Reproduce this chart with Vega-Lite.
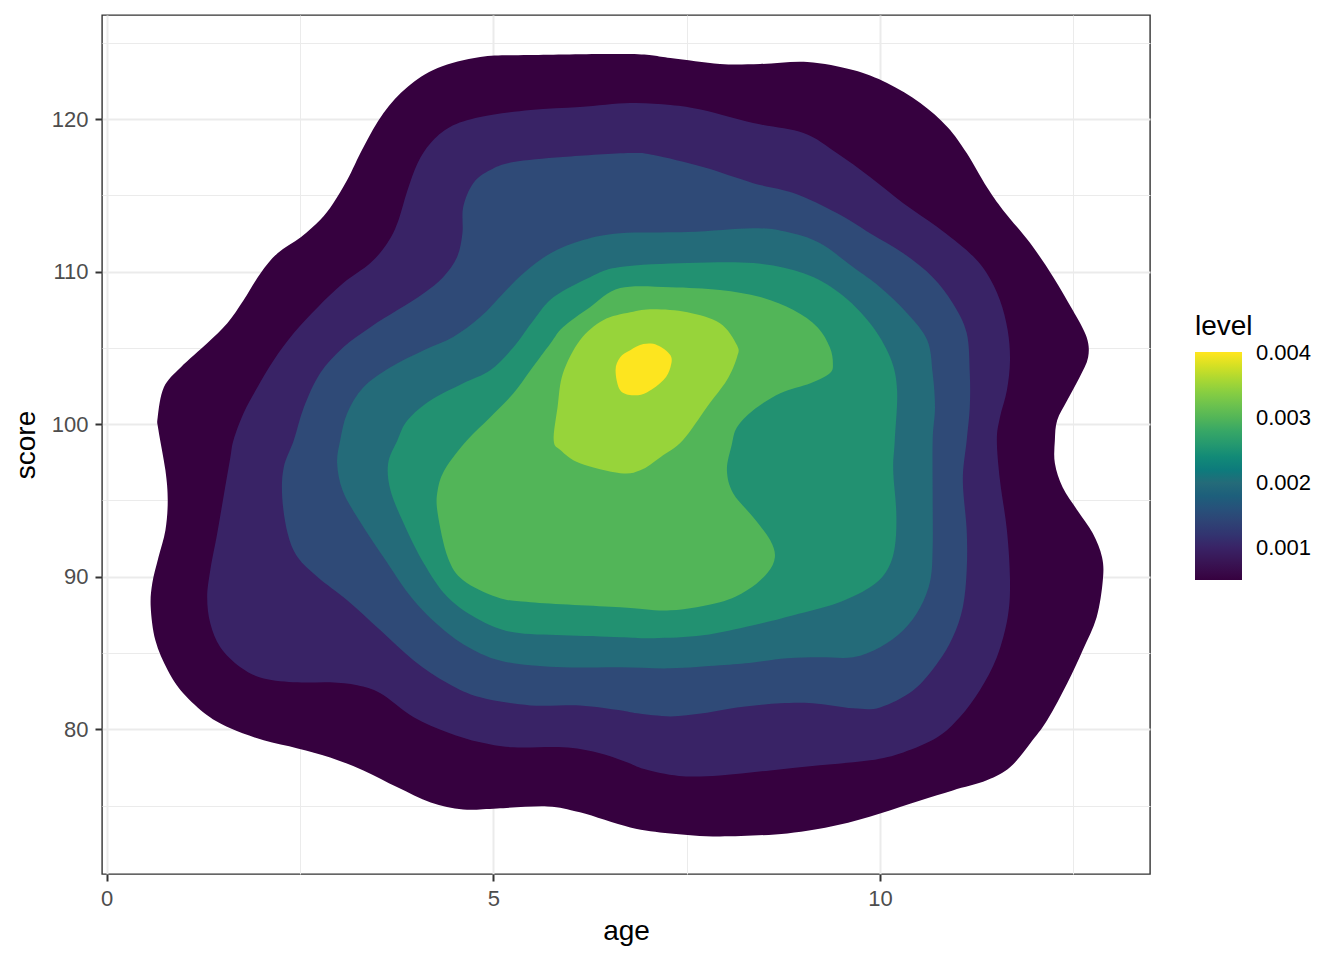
{
  "$schema": "https://vega.github.io/schema/vega-lite/v6.json",
  "description": "Filled 2D density contours of score against age",
  "width": 1048,
  "height": 859,
  "autosize": {"type": "none"},
  "padding": {"left": 102, "top": 15, "right": 194, "bottom": 86},
  "background": "white",
  "data": {
    "values": [
      {"level":0.0005,"i":1,"age":0.67,"score":99.61},{"level":0.0005,"i":2,"age":0.66,"score":100.46},{"level":0.0005,"i":3,"age":0.74,"score":102.43},{"level":0.0005,"i":4,"age":0.96,"score":103.74},{"level":0.0005,"i":5,"age":1.30,"score":105.31},{"level":0.0005,"i":6,"age":1.56,"score":106.62},{"level":0.0005,"i":7,"age":1.77,"score":108.13},{"level":0.0005,"i":8,"age":1.99,"score":109.90},{"level":0.0005,"i":9,"age":2.21,"score":111.21},{"level":0.0005,"i":10,"age":2.51,"score":112.26},
      {"level":0.0005,"i":11,"age":2.76,"score":113.38},{"level":0.0005,"i":12,"age":2.93,"score":114.49},{"level":0.0005,"i":13,"age":3.11,"score":116.00},{"level":0.0005,"i":14,"age":3.32,"score":118.16},{"level":0.0005,"i":15,"age":3.58,"score":120.39},{"level":0.0005,"i":16,"age":3.89,"score":122.10},{"level":0.0005,"i":17,"age":4.28,"score":123.34},{"level":0.0005,"i":18,"age":4.83,"score":124.07},{"level":0.0005,"i":19,"age":5.48,"score":124.20},{"level":0.0005,"i":20,"age":6.77,"score":124.26},
      {"level":0.0005,"i":21,"age":7.29,"score":124.00},{"level":0.0005,"i":22,"age":7.93,"score":123.61},{"level":0.0005,"i":23,"age":8.45,"score":123.61},{"level":0.0005,"i":24,"age":9.06,"score":123.74},{"level":0.0005,"i":25,"age":9.65,"score":123.21},{"level":0.0005,"i":26,"age":10.09,"score":122.36},{"level":0.0005,"i":27,"age":10.52,"score":121.05},{"level":0.0005,"i":28,"age":10.87,"score":119.48},{"level":0.0005,"i":29,"age":11.12,"score":117.77},{"level":0.0005,"i":30,"age":11.38,"score":115.54},
      {"level":0.0005,"i":31,"age":11.59,"score":114.03},{"level":0.0005,"i":32,"age":11.94,"score":111.87},{"level":0.0005,"i":33,"age":12.24,"score":109.64},{"level":0.0005,"i":34,"age":12.49,"score":107.48},{"level":0.0005,"i":35,"age":12.67,"score":105.71},{"level":0.0005,"i":36,"age":12.69,"score":104.39},{"level":0.0005,"i":37,"age":12.58,"score":103.08},{"level":0.0005,"i":38,"age":12.42,"score":101.57},{"level":0.0005,"i":39,"age":12.29,"score":100.26},{"level":0.0005,"i":40,"age":12.26,"score":98.95},
      {"level":0.0005,"i":41,"age":12.26,"score":97.44},{"level":0.0005,"i":42,"age":12.36,"score":95.87},{"level":0.0005,"i":43,"age":12.55,"score":94.36},{"level":0.0005,"i":44,"age":12.75,"score":92.85},{"level":0.0005,"i":45,"age":12.87,"score":91.28},{"level":0.0005,"i":46,"age":12.88,"score":89.77},{"level":0.0005,"i":47,"age":12.80,"score":87.34},{"level":0.0005,"i":48,"age":12.62,"score":85.18},{"level":0.0005,"i":49,"age":12.42,"score":83.02},{"level":0.0005,"i":50,"age":12.16,"score":80.59},
      {"level":0.0005,"i":51,"age":11.94,"score":79.08},{"level":0.0005,"i":52,"age":11.68,"score":77.51},{"level":0.0005,"i":53,"age":11.38,"score":76.66},{"level":0.0005,"i":54,"age":10.94,"score":76.00},{"level":0.0005,"i":55,"age":10.52,"score":75.34},{"level":0.0005,"i":56,"age":10.00,"score":74.49},{"level":0.0005,"i":57,"age":9.44,"score":73.71},{"level":0.0005,"i":58,"age":8.80,"score":73.18},{"level":0.0005,"i":59,"age":7.93,"score":72.98},{"level":0.0005,"i":60,"age":7.29,"score":73.18},
      {"level":0.0005,"i":61,"age":6.77,"score":73.57},{"level":0.0005,"i":62,"age":6.12,"score":74.56},{"level":0.0005,"i":63,"age":5.70,"score":74.95},{"level":0.0005,"i":64,"age":5.05,"score":74.82},{"level":0.0005,"i":65,"age":4.61,"score":74.75},{"level":0.0005,"i":66,"age":4.19,"score":75.21},{"level":0.0005,"i":67,"age":3.76,"score":76.20},{"level":0.0005,"i":68,"age":3.32,"score":77.31},{"level":0.0005,"i":69,"age":2.89,"score":78.16},{"level":0.0005,"i":70,"age":2.47,"score":78.75},
      {"level":0.0005,"i":71,"age":2.03,"score":79.28},{"level":0.0005,"i":72,"age":1.60,"score":80.07},{"level":0.0005,"i":73,"age":1.30,"score":80.92},{"level":0.0005,"i":74,"age":0.99,"score":82.36},{"level":0.0005,"i":75,"age":0.79,"score":83.87},{"level":0.0005,"i":76,"age":0.63,"score":85.84},{"level":0.0005,"i":77,"age":0.57,"score":88.00},{"level":0.0005,"i":78,"age":0.59,"score":89.57},{"level":0.0005,"i":79,"age":0.67,"score":91.28},{"level":0.0005,"i":80,"age":0.76,"score":93.05},
      {"level":0.0005,"i":81,"age":0.79,"score":95.02},{"level":0.0005,"i":82,"age":0.76,"score":96.98},

      {"level":0.001,"i":1,"age":1.64,"score":98.95},{"level":0.001,"i":2,"age":1.77,"score":100.72},{"level":0.001,"i":3,"age":1.95,"score":102.43},{"level":0.001,"i":4,"age":2.16,"score":104.20},{"level":0.001,"i":5,"age":2.42,"score":105.97},{"level":0.001,"i":6,"age":2.73,"score":107.67},{"level":0.001,"i":7,"age":3.06,"score":109.25},{"level":0.001,"i":8,"age":3.41,"score":110.56},{"level":0.001,"i":9,"age":3.63,"score":111.87},{"level":0.001,"i":10,"age":3.76,"score":113.18},
      {"level":0.001,"i":11,"age":3.89,"score":115.34},{"level":0.001,"i":12,"age":4.02,"score":117.11},{"level":0.001,"i":13,"age":4.19,"score":118.43},{"level":0.001,"i":14,"age":4.44,"score":119.48},{"level":0.001,"i":15,"age":4.83,"score":120.13},{"level":0.001,"i":16,"age":5.48,"score":120.59},{"level":0.001,"i":17,"age":6.12,"score":120.79},{"level":0.001,"i":18,"age":6.77,"score":121.05},{"level":0.001,"i":19,"age":7.29,"score":120.92},{"level":0.001,"i":20,"age":7.71,"score":120.59},
      {"level":0.001,"i":21,"age":8.36,"score":119.74},{"level":0.001,"i":22,"age":9.01,"score":119.08},{"level":0.001,"i":23,"age":9.44,"score":117.77},{"level":0.001,"i":24,"age":9.87,"score":116.20},{"level":0.001,"i":25,"age":10.30,"score":114.49},{"level":0.001,"i":26,"age":10.74,"score":112.92},{"level":0.001,"i":27,"age":11.16,"score":111.21},{"level":0.001,"i":28,"age":11.38,"score":109.90},{"level":0.001,"i":29,"age":11.55,"score":108.13},{"level":0.001,"i":30,"age":11.65,"score":106.16},
      {"level":0.001,"i":31,"age":11.68,"score":104.20},{"level":0.001,"i":32,"age":11.64,"score":102.23},{"level":0.001,"i":33,"age":11.55,"score":100.46},{"level":0.001,"i":34,"age":11.51,"score":98.95},{"level":0.001,"i":35,"age":11.55,"score":96.33},{"level":0.001,"i":36,"age":11.64,"score":93.05},{"level":0.001,"i":37,"age":11.68,"score":89.77},{"level":0.001,"i":38,"age":11.65,"score":87.34},{"level":0.001,"i":39,"age":11.51,"score":84.72},{"level":0.001,"i":40,"age":11.29,"score":82.56},
      {"level":0.001,"i":41,"age":11.03,"score":80.79},{"level":0.001,"i":42,"age":10.74,"score":79.48},{"level":0.001,"i":43,"age":10.30,"score":78.49},{"level":0.001,"i":44,"age":9.87,"score":77.97},{"level":0.001,"i":45,"age":9.22,"score":77.64},{"level":0.001,"i":46,"age":8.58,"score":77.31},{"level":0.001,"i":47,"age":7.93,"score":76.98},{"level":0.001,"i":48,"age":7.40,"score":76.95},{"level":0.001,"i":49,"age":6.95,"score":77.40},{"level":0.001,"i":50,"age":6.70,"score":77.90},
      {"level":0.001,"i":51,"age":6.34,"score":78.49},{"level":0.001,"i":52,"age":5.90,"score":78.82},{"level":0.001,"i":53,"age":5.26,"score":78.82},{"level":0.001,"i":54,"age":4.83,"score":79.15},{"level":0.001,"i":55,"age":4.41,"score":79.80},{"level":0.001,"i":56,"age":3.97,"score":80.79},{"level":0.001,"i":57,"age":3.54,"score":82.36},{"level":0.001,"i":58,"age":3.24,"score":82.89},{"level":0.001,"i":59,"age":2.89,"score":83.08},{"level":0.001,"i":60,"age":2.47,"score":83.08},
      {"level":0.001,"i":61,"age":2.03,"score":83.34},{"level":0.001,"i":62,"age":1.73,"score":84.07},{"level":0.001,"i":63,"age":1.47,"score":85.38},{"level":0.001,"i":64,"age":1.34,"score":86.95},{"level":0.001,"i":65,"age":1.30,"score":88.66},{"level":0.001,"i":66,"age":1.34,"score":90.43},{"level":0.001,"i":67,"age":1.43,"score":92.85},{"level":0.001,"i":68,"age":1.51,"score":95.21},{"level":0.001,"i":69,"age":1.60,"score":97.84},

      {"level":0.0015,"i":1,"age":2.42,"score":98.95},{"level":0.0015,"i":2,"age":2.55,"score":101.11},{"level":0.0015,"i":3,"age":2.76,"score":103.34},{"level":0.0015,"i":4,"age":3.06,"score":105.05},{"level":0.0015,"i":5,"age":3.41,"score":106.36},{"level":0.0015,"i":6,"age":3.76,"score":107.48},{"level":0.0015,"i":7,"age":4.10,"score":108.59},{"level":0.0015,"i":8,"age":4.35,"score":109.64},{"level":0.0015,"i":9,"age":4.53,"score":110.95},{"level":0.0015,"i":10,"age":4.60,"score":112.52},
      {"level":0.0015,"i":11,"age":4.61,"score":114.23},{"level":0.0015,"i":12,"age":4.74,"score":115.80},{"level":0.0015,"i":13,"age":4.96,"score":116.66},{"level":0.0015,"i":14,"age":5.26,"score":117.18},{"level":0.0015,"i":15,"age":5.90,"score":117.51},{"level":0.0015,"i":16,"age":6.77,"score":117.77},{"level":0.0015,"i":17,"age":7.07,"score":117.64},{"level":0.0015,"i":18,"age":7.71,"score":116.85},{"level":0.0015,"i":19,"age":8.36,"score":115.80},{"level":0.0015,"i":20,"age":8.88,"score":115.15},
      {"level":0.0015,"i":21,"age":9.44,"score":113.84},{"level":0.0015,"i":22,"age":9.87,"score":112.52},{"level":0.0015,"i":23,"age":10.30,"score":111.21},{"level":0.0015,"i":24,"age":10.68,"score":109.64},{"level":0.0015,"i":25,"age":10.94,"score":107.93},{"level":0.0015,"i":26,"age":11.12,"score":105.97},{"level":0.0015,"i":27,"age":11.16,"score":103.34},{"level":0.0015,"i":28,"age":11.16,"score":101.11},{"level":0.0015,"i":29,"age":11.12,"score":98.95},{"level":0.0015,"i":30,"age":11.07,"score":96.33},
      {"level":0.0015,"i":31,"age":11.12,"score":93.05},{"level":0.0015,"i":32,"age":11.12,"score":90.43},{"level":0.0015,"i":33,"age":11.07,"score":88.00},{"level":0.0015,"i":34,"age":10.94,"score":86.03},{"level":0.0015,"i":35,"age":10.74,"score":84.33},{"level":0.0015,"i":36,"age":10.43,"score":82.56},{"level":0.0015,"i":37,"age":10.00,"score":81.44},{"level":0.0015,"i":38,"age":9.65,"score":81.38},{"level":0.0015,"i":39,"age":9.13,"score":81.71},{"level":0.0015,"i":40,"age":8.71,"score":81.71},
      {"level":0.0015,"i":41,"age":8.15,"score":81.44},{"level":0.0015,"i":42,"age":7.71,"score":81.05},{"level":0.0015,"i":43,"age":7.29,"score":80.85},{"level":0.0015,"i":44,"age":6.86,"score":81.05},{"level":0.0015,"i":45,"age":6.64,"score":81.25},{"level":0.0015,"i":46,"age":6.12,"score":81.57},{"level":0.0015,"i":47,"age":5.48,"score":81.57},{"level":0.0015,"i":48,"age":4.83,"score":82.10},{"level":0.0015,"i":49,"age":4.41,"score":83.02},{"level":0.0015,"i":50,"age":3.97,"score":84.52},
      {"level":0.0015,"i":51,"age":3.54,"score":86.49},{"level":0.0015,"i":52,"age":3.11,"score":88.46},{"level":0.0015,"i":53,"age":2.73,"score":89.97},{"level":0.0015,"i":54,"age":2.47,"score":91.28},{"level":0.0015,"i":55,"age":2.34,"score":92.85},{"level":0.0015,"i":56,"age":2.27,"score":95.21},{"level":0.0015,"i":57,"age":2.29,"score":97.18},

      {"level":0.002,"i":1,"age":3.02,"score":98.95},{"level":0.002,"i":2,"age":3.11,"score":100.72},{"level":0.002,"i":3,"age":3.32,"score":102.43},{"level":0.002,"i":4,"age":3.67,"score":103.74},{"level":0.002,"i":5,"age":4.10,"score":104.85},{"level":0.002,"i":6,"age":4.48,"score":105.71},{"level":0.002,"i":7,"age":4.83,"score":107.02},{"level":0.002,"i":8,"age":5.13,"score":108.59},{"level":0.002,"i":9,"age":5.39,"score":109.90},{"level":0.002,"i":10,"age":5.74,"score":111.21},
      {"level":0.002,"i":11,"age":6.16,"score":112.07},{"level":0.002,"i":12,"age":6.64,"score":112.52},{"level":0.002,"i":13,"age":7.51,"score":112.59},{"level":0.002,"i":14,"age":8.36,"score":112.85},{"level":0.002,"i":15,"age":8.80,"score":112.59},{"level":0.002,"i":16,"age":9.22,"score":111.87},{"level":0.002,"i":17,"age":9.65,"score":110.30},{"level":0.002,"i":18,"age":10.00,"score":108.98},{"level":0.002,"i":19,"age":10.35,"score":107.28},{"level":0.002,"i":20,"age":10.61,"score":105.51},
      {"level":0.002,"i":21,"age":10.68,"score":103.34},{"level":0.002,"i":22,"age":10.71,"score":101.11},{"level":0.002,"i":23,"age":10.68,"score":98.95},{"level":0.002,"i":24,"age":10.68,"score":95.21},{"level":0.002,"i":25,"age":10.68,"score":91.93},{"level":0.002,"i":26,"age":10.65,"score":89.77},{"level":0.002,"i":27,"age":10.52,"score":88.00},{"level":0.002,"i":28,"age":10.30,"score":86.49},{"level":0.002,"i":29,"age":10.00,"score":85.38},{"level":0.002,"i":30,"age":9.65,"score":84.72},
      {"level":0.002,"i":31,"age":9.22,"score":84.72},{"level":0.002,"i":32,"age":8.80,"score":84.66},{"level":0.002,"i":33,"age":8.36,"score":84.39},{"level":0.002,"i":34,"age":7.93,"score":84.20},{"level":0.002,"i":35,"age":7.29,"score":84.00},{"level":0.002,"i":36,"age":6.64,"score":84.07},{"level":0.002,"i":37,"age":5.90,"score":84.07},{"level":0.002,"i":38,"age":5.26,"score":84.33},{"level":0.002,"i":39,"age":4.83,"score":84.98},{"level":0.002,"i":40,"age":4.41,"score":86.30},
      {"level":0.002,"i":41,"age":3.97,"score":88.46},{"level":0.002,"i":42,"age":3.58,"score":91.28},{"level":0.002,"i":43,"age":3.24,"score":93.90},{"level":0.002,"i":44,"age":3.05,"score":95.67},{"level":0.002,"i":45,"age":2.98,"score":97.44},

      {"level":0.0025,"i":1,"age":3.76,"score":98.95},{"level":0.0025,"i":2,"age":3.89,"score":100.26},{"level":0.0025,"i":3,"age":4.19,"score":101.57},{"level":0.0025,"i":4,"age":4.61,"score":102.69},{"level":0.0025,"i":5,"age":4.96,"score":103.54},{"level":0.0025,"i":6,"age":5.26,"score":105.05},{"level":0.0025,"i":7,"age":5.52,"score":106.82},{"level":0.0025,"i":8,"age":5.78,"score":108.33},{"level":0.0025,"i":9,"age":6.25,"score":109.64},{"level":0.0025,"i":10,"age":6.64,"score":110.30},
      {"level":0.0025,"i":11,"age":7.51,"score":110.56},{"level":0.0025,"i":12,"age":8.36,"score":110.56},{"level":0.0025,"i":13,"age":9.01,"score":109.90},{"level":0.0025,"i":14,"age":9.48,"score":108.59},{"level":0.0025,"i":15,"age":9.87,"score":106.62},{"level":0.0025,"i":16,"age":10.13,"score":104.39},{"level":0.0025,"i":17,"age":10.22,"score":102.23},{"level":0.0025,"i":18,"age":10.19,"score":98.95},{"level":0.0025,"i":19,"age":10.17,"score":96.98},{"level":0.0025,"i":20,"age":10.21,"score":94.16},
      {"level":0.0025,"i":21,"age":10.19,"score":91.93},{"level":0.0025,"i":22,"age":10.09,"score":90.43},{"level":0.0025,"i":23,"age":9.87,"score":89.31},{"level":0.0025,"i":24,"age":9.44,"score":88.26},{"level":0.0025,"i":25,"age":8.88,"score":87.48},{"level":0.0025,"i":26,"age":8.36,"score":86.82},{"level":0.0025,"i":27,"age":7.71,"score":86.16},{"level":0.0025,"i":28,"age":7.07,"score":85.97},{"level":0.0025,"i":29,"age":6.64,"score":86.03},{"level":0.0025,"i":30,"age":5.90,"score":86.16},
      {"level":0.0025,"i":31,"age":5.26,"score":86.36},{"level":0.0025,"i":32,"age":4.83,"score":87.15},{"level":0.0025,"i":33,"age":4.41,"score":88.66},{"level":0.0025,"i":34,"age":4.10,"score":90.89},{"level":0.0025,"i":35,"age":3.84,"score":93.51},{"level":0.0025,"i":36,"age":3.67,"score":95.67},{"level":0.0025,"i":37,"age":3.64,"score":97.44},

      {"level":0.003,"i":1,"age":4.66,"score":98.95},{"level":0.003,"i":2,"age":4.96,"score":100.46},{"level":0.003,"i":3,"age":5.26,"score":102.03},{"level":0.003,"i":4,"age":5.48,"score":103.54},{"level":0.003,"i":5,"age":5.74,"score":105.31},{"level":0.003,"i":6,"age":5.90,"score":106.36},{"level":0.003,"i":7,"age":6.25,"score":107.67},{"level":0.003,"i":8,"age":6.64,"score":108.92},{"level":0.003,"i":9,"age":7.29,"score":108.98},{"level":0.003,"i":10,"age":7.93,"score":108.79},
      {"level":0.003,"i":11,"age":8.45,"score":108.33},{"level":0.003,"i":12,"age":8.88,"score":107.48},{"level":0.003,"i":13,"age":9.19,"score":106.36},{"level":0.003,"i":14,"age":9.35,"score":105.05},{"level":0.003,"i":15,"age":9.39,"score":104.00},{"level":0.003,"i":16,"age":9.35,"score":103.34},{"level":0.003,"i":17,"age":9.10,"score":102.69},{"level":0.003,"i":18,"age":8.71,"score":102.03},{"level":0.003,"i":19,"age":8.36,"score":100.92},{"level":0.003,"i":20,"age":8.15,"score":99.80},
      {"level":0.003,"i":21,"age":8.08,"score":98.60},{"level":0.003,"i":22,"age":8.02,"score":96.98},{"level":0.003,"i":23,"age":8.10,"score":95.48},{"level":0.003,"i":24,"age":8.36,"score":93.90},{"level":0.003,"i":25,"age":8.58,"score":92.39},{"level":0.003,"i":26,"age":8.64,"score":91.28},{"level":0.003,"i":27,"age":8.54,"score":90.23},{"level":0.003,"i":28,"age":8.28,"score":89.11},{"level":0.003,"i":29,"age":7.93,"score":88.33},{"level":0.003,"i":30,"age":7.29,"score":87.80},
      {"level":0.003,"i":31,"age":6.64,"score":88.00},{"level":0.003,"i":32,"age":5.48,"score":88.33},{"level":0.003,"i":33,"age":5.05,"score":88.66},{"level":0.003,"i":34,"age":4.61,"score":89.77},{"level":0.003,"i":35,"age":4.41,"score":91.28},{"level":0.003,"i":36,"age":4.28,"score":94.16},{"level":0.003,"i":37,"age":4.28,"score":95.67},{"level":0.003,"i":38,"age":4.38,"score":97.10},

      {"level":0.0035,"i":1,"age":5.78,"score":98.95},{"level":0.0035,"i":2,"age":5.83,"score":101.11},{"level":0.0035,"i":3,"age":5.90,"score":103.34},{"level":0.0035,"i":4,"age":6.12,"score":105.51},{"level":0.0035,"i":5,"age":6.42,"score":106.82},{"level":0.0035,"i":6,"age":6.77,"score":107.34},{"level":0.0035,"i":7,"age":7.07,"score":107.54},{"level":0.0035,"i":8,"age":7.51,"score":107.34},{"level":0.0035,"i":9,"age":7.93,"score":106.62},{"level":0.0035,"i":10,"age":8.15,"score":105.18},
      {"level":0.0035,"i":11,"age":8.15,"score":104.39},{"level":0.0035,"i":12,"age":8.02,"score":102.89},{"level":0.0035,"i":13,"age":7.76,"score":101.11},{"level":0.0035,"i":14,"age":7.45,"score":98.95},{"level":0.0035,"i":15,"age":7.16,"score":97.84},{"level":0.0035,"i":16,"age":6.90,"score":96.98},{"level":0.0035,"i":17,"age":6.64,"score":96.79},{"level":0.0035,"i":18,"age":6.12,"score":97.44},{"level":0.0035,"i":19,"age":5.87,"score":98.30},

      {"level":0.004,"i":1,"age":6.58,"score":103.54},{"level":0.004,"i":2,"age":6.64,"score":104.39},{"level":0.004,"i":3,"age":6.77,"score":104.85},{"level":0.004,"i":4,"age":6.94,"score":105.25},{"level":0.004,"i":5,"age":7.12,"score":105.18},{"level":0.004,"i":6,"age":7.29,"score":104.52},{"level":0.004,"i":7,"age":7.29,"score":103.74},{"level":0.004,"i":8,"age":7.20,"score":102.89},{"level":0.004,"i":9,"age":6.99,"score":102.10},{"level":0.004,"i":10,"age":6.81,"score":101.90},
      {"level":0.004,"i":11,"age":6.64,"score":102.23}
    ]
  },
  "mark": {"type": "line", "filled": true, "interpolate": "cardinal-closed", "strokeWidth": 0},
  "encoding": {
    "x": {
      "field": "age",
      "type": "quantitative",
      "scale": {"domain": [-0.06, 13.49], "nice": false, "zero": false},
      "axis": {
        "title": "age",
        "values": [0, 2.5, 5, 7.5, 10, 12.5],
        "labelExpr": "datum.value % 5 === 0 ? datum.label : ''",
        "tickOpacity": {"condition": {"test": "datum.value % 5 !== 0", "value": 0}, "value": 1},
        "gridWidth": {"condition": {"test": "datum.value % 5 !== 0", "value": 1}, "value": 2},
        "labelPadding": 7,
        "titlePadding": 8
      }
    },
    "y": {
      "field": "score",
      "type": "quantitative",
      "scale": {"domain": [70.52, 126.82], "nice": false, "zero": false},
      "axis": {
        "title": "score",
        "values": [75, 80, 85, 90, 95, 100, 105, 110, 115, 120, 125],
        "labelExpr": "datum.value % 10 === 0 ? datum.label : ''",
        "tickOpacity": {"condition": {"test": "datum.value % 10 !== 0", "value": 0}, "value": 1},
        "gridWidth": {"condition": {"test": "datum.value % 10 !== 0", "value": 1}, "value": 2},
        "labelPadding": 7,
        "titlePadding": 11
      }
    },
    "order": {"field": "i", "type": "quantitative"},
    "detail": {"field": "level", "type": "nominal"},
    "color": {
      "field": "level",
      "type": "quantitative",
      "scale": {
        "domain": [0.0005, 0.001, 0.0015, 0.002, 0.0025, 0.003, 0.0035, 0.004, 0.00402],
        "range": ["#36013f", "#392366", "#2f4a77", "#246b79", "#229171", "#52b558", "#97d43a", "#fde51f", "#fde51f"]
      },
      "legend": {
        "title": "level",
        "orient": "none",
        "legendX": 1093,
        "legendY": 298,
        "direction": "vertical",
        "gradientLength": 228,
        "gradientThickness": 47,
        "gradientStrokeWidth": 0,
        "values": [0.001, 0.002, 0.003, 0.004],
        "format": ".3f",
        "labelFontSize": 22,
        "labelColor": "black",
        "labelOffset": 14,
        "labelBaseline": "middle",
        "titleFontSize": 28,
        "titleFontWeight": "normal",
        "titleColor": "black",
        "titlePadding": 11
      }
    }
  },
  "config": {
    "font": "Liberation Sans",
    "view": {"stroke": "#333333", "strokeWidth": 1.4},
    "axis": {
      "domain": false,
      "grid": true,
      "gridColor": "#ebebeb",
      "tickColor": "#333333",
      "tickSize": 7,
      "tickWidth": 2,
      "labelFontSize": 22,
      "labelColor": "#4d4d4d",
      "labelFlush": false,
      "labelOverlap": false,
      "titleFontSize": 28,
      "titleFontWeight": "normal",
      "titleColor": "black"
    }
  }
}
